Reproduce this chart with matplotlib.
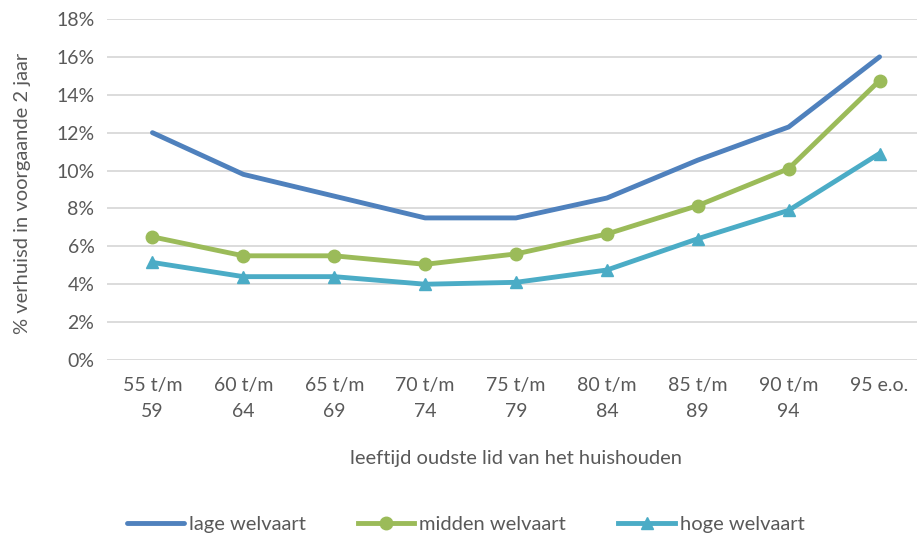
import matplotlib.pyplot as plt
import numpy as np

plt.rcParams['font.family'] = ['Lato', 'DejaVu Sans']

categories = ['55 t/m\n59', '60 t/m\n64', '65 t/m\n69', '70 t/m\n74', '75 t/m\n79',
              '80 t/m\n84', '85 t/m\n89', '90 t/m\n94', '95 e.o.\n ']
lage = [12.0, 9.8, 8.65, 7.5, 7.5, 8.55, 10.55, 12.3, 16.0]
midden = [6.5, 5.5, 5.5, 5.05, 5.6, 6.65, 8.15, 10.1, 14.75]
hoge = [5.15, 4.4, 4.4, 4.0, 4.1, 4.75, 6.4, 7.9, 10.9]

txt = '#595959'
x = np.arange(len(categories))

fig = plt.figure(figsize=(9.17, 5.40), dpi=100)
ax = fig.add_axes([107 / 917, 180 / 540, 818 / 917, 341 / 540])

ax.plot(x, lage, color='#4F81BD', lw=3.5, solid_capstyle='round', label='lage welvaart')
ax.plot(x, midden, color='#9BBB59', lw=3.5, marker='o', ms=9, label='midden welvaart')
ax.plot(x, hoge, color='#4BACC6', lw=3.5, marker='^', ms=9, label='hoge welvaart')

ax.set_xlim(-0.5, 8.5)
ax.set_ylim(0, 18)
ax.set_yticks(range(0, 19, 2))
ax.set_yticklabels([f'{v}%' for v in range(0, 19, 2)])
ax.set_xticks(x)
ax.set_xticklabels(categories, linespacing=1.65)
ax.grid(axis='y', color='#D9D9D9', lw=1.3)
ax.set_axisbelow(True)
for s in ax.spines.values():
    s.set_visible(False)
ax.tick_params(length=0, labelsize=14, colors=txt, pad=12)
ax.tick_params(axis='y', pad=9)

ax.set_xlabel('leeftijd oudste lid van het huishouden', fontsize=14.5, color=txt, labelpad=22)
ax.set_ylabel('% verhuisd in voorgaande 2 jaar', fontsize=14.5, color=txt, labelpad=12)
ax.yaxis.set_label_coords(-0.093, 0.49)

leg = fig.legend(loc='center', bbox_to_anchor=(0.508, 0.028), ncol=3, frameon=False,
                 fontsize=14.5, handlelength=2.8, columnspacing=2.6, handletextpad=0.25)
for t in leg.get_texts():
    t.set_color(txt)

fig.savefig('out.png', dpi=100)
